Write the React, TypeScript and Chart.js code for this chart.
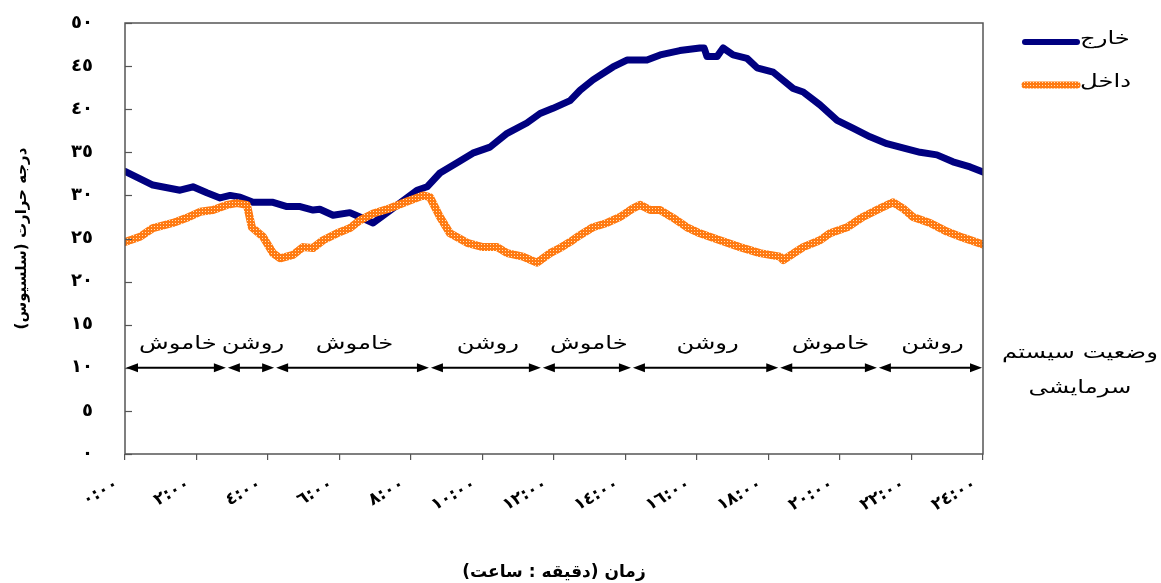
import React, { useEffect, useRef } from 'react';
import { Chart, registerables } from 'chart.js';

Chart.register(...registerables);

// ---- data (hours of day, temperature °C) ----
const outsideHours = [0, 0.78, 1.54, 1.9, 2.29, 2.66, 2.94, 3.22, 3.58, 4.14, 4.53, 4.9, 5.26, 5.45, 5.82, 6.29, 6.57, 6.94, 7.33, 7.69, 8.17, 8.45, 8.81, 9.29, 9.73, 10.21, 10.69, 11.24, 11.61, 11.97, 12.45, 12.73, 13.09, 13.65, 14.04, 14.6, 14.97, 15.52, 16.08, 16.2, 16.28, 16.56, 16.73, 17.01, 17.4, 17.68, 18.13, 18.69, 18.97, 19.44, 19.92, 20.36, 20.84, 21.31, 21.76, 22.24, 22.71, 23.16, 23.64, 24];
const outsideTemps = [32.8, 31.2, 30.6, 31.0, 30.3, 29.7, 30.0, 29.8, 29.2, 29.2, 28.7, 28.7, 28.3, 28.4, 27.7, 28.0, 27.5, 26.8, 28.0, 29.1, 30.6, 31.0, 32.6, 33.8, 34.9, 35.6, 37.2, 38.4, 39.5, 40.1, 41.0, 42.2, 43.4, 44.9, 45.7, 45.7, 46.3, 46.8, 47.1, 47.1, 46.1, 46.1, 47.1, 46.3, 45.9, 44.8, 44.3, 42.4, 42.0, 40.5, 38.7, 37.8, 36.8, 36.0, 35.5, 35.0, 34.7, 33.9, 33.3, 32.7];

const insideHours = [0, 0.42, 0.78, 1.34, 1.73, 2.1, 2.46, 2.85, 3.13, 3.41, 3.55, 3.86, 4.14, 4.34, 4.7, 4.98, 5.26, 5.54, 5.93, 6.29, 6.57, 6.94, 7.41, 7.89, 8.34, 8.53, 8.81, 9.09, 9.57, 10.01, 10.41, 10.69, 11.13, 11.52, 11.89, 12.17, 12.45, 12.73, 13.09, 13.48, 13.85, 14.21, 14.41, 14.69, 14.97, 15.33, 15.72, 16.08, 16.64, 17.2, 17.76, 18.32, 18.41, 18.97, 19.44, 19.72, 20.2, 20.64, 21.12, 21.48, 21.76, 22.04, 22.52, 22.99, 23.44, 24];
const insideTemps = [24.6, 25.2, 26.2, 26.8, 27.4, 28.1, 28.3, 28.9, 29.1, 28.9, 26.3, 25.2, 23.3, 22.7, 23.1, 24.0, 23.9, 24.8, 25.6, 26.2, 27.1, 27.9, 28.5, 29.3, 30.0, 29.8, 27.5, 25.6, 24.5, 24.0, 24.0, 23.3, 22.9, 22.2, 23.3, 23.9, 24.6, 25.4, 26.3, 26.8, 27.5, 28.5, 28.9, 28.3, 28.3, 27.4, 26.3, 25.6, 24.8, 24.0, 23.3, 22.9, 22.5, 24.0, 24.8, 25.6, 26.3, 27.5, 28.5, 29.2, 28.5, 27.5, 26.8, 25.8, 25.1, 24.3];

const seriesNames = ['خارج', 'داخل'];

// cooling system status segments (hours) and labels
const statusBounds = [0, 2.85, 4.2, 8.53, 11.66, 14.18, 18.3, 21.06, 24];
const statusLabels = ['خاموش', 'روشن', 'خاموش', 'روشن', 'خاموش', 'روشن', 'خاموش', 'روشن'];
const statusLevel = 10;
const statusTitle = ['وضعیت سیستم', 'سرمایشی'];

const yTitle = 'درجه حرارت (سلسیوس)';
const xTitle = 'زمان (دقیقه : ساعت)';

const arabicDigits = '٠١٢٣٤٥٦٧٨٩';
const toArabic = (s: string) => s.replace(/\d/g, (d) => arabicDigits[+d]);

const NAVY = '#000080';
const ORANGE = '#FF7A12';
const AR_FONT = '"DejaVu Sans", "Noto Sans", sans-serif';
const STRETCH = 1.35;

function makePattern(): CanvasPattern | string {
  const c = document.createElement('canvas');
  c.width = 3;
  c.height = 3;
  const g = c.getContext('2d');
  if (!g) return ORANGE;
  g.fillStyle = ORANGE;
  g.fillRect(0, 0, 3, 3);
  g.fillStyle = '#FFE2BC';
  g.fillRect(1, 1, 1, 1);
  return g.createPattern(c, 'repeat') || ORANGE;
}

function stretchedText(ctx: CanvasRenderingContext2D, text: string, x: number, y: number) {
  ctx.save();
  ctx.translate(x, y);
  ctx.scale(STRETCH, 1);
  ctx.fillText(text, 0, 0);
  ctx.restore();
}

export default function App() {
  const ref = useRef<HTMLCanvasElement | null>(null);

  useEffect(() => {
    const canvas = ref.current;
    if (!canvas) return;
    const pattern = makePattern();

    const decor = {
      id: 'decor',
      afterDatasetsDraw(chart: any) {
        const { ctx, chartArea: a, scales } = chart;
        const x = scales.x;
        const y = scales.y;
        ctx.save();
        // frame
        ctx.strokeStyle = '#555';
        ctx.lineWidth = 1.5;
        ctx.strokeRect(a.left, a.top, a.right - a.left, a.bottom - a.top);
        // inward y ticks
        ctx.lineWidth = 1.2;
        for (let v = 0; v <= 50; v += 5) {
          const py = Math.round(y.getPixelForValue(v)) + 0.5;
          ctx.beginPath();
          ctx.moveTo(a.left, py);
          ctx.lineTo(a.left + 7, py);
          ctx.stroke();
        }
        // status arrows
        const py = y.getPixelForValue(statusLevel);
        ctx.strokeStyle = '#000';
        ctx.fillStyle = '#000';
        ctx.direction = 'rtl';
        ctx.font = `18px ${AR_FONT}`;
        ctx.textAlign = 'center';
        ctx.textBaseline = 'middle';
        for (let i = 0; i < statusLabels.length; i++) {
          const x1 = x.getPixelForValue(statusBounds[i]) + 1;
          const x2 = x.getPixelForValue(statusBounds[i + 1]) - 1;
          ctx.lineWidth = 2;
          ctx.beginPath();
          ctx.moveTo(x1 + 6, py);
          ctx.lineTo(x2 - 6, py);
          ctx.stroke();
          ctx.beginPath();
          ctx.moveTo(x1, py);
          ctx.lineTo(x1 + 12, py - 4.5);
          ctx.lineTo(x1 + 12, py + 4.5);
          ctx.closePath();
          ctx.fill();
          ctx.beginPath();
          ctx.moveTo(x2, py);
          ctx.lineTo(x2 - 12, py - 4.5);
          ctx.lineTo(x2 - 12, py + 4.5);
          ctx.closePath();
          ctx.fill();
          stretchedText(ctx, statusLabels[i], (x1 + x2) / 2 + 2, py - 23);
        }
        // right-side status title
        stretchedText(ctx, statusTitle[0], 1080, py - 14);
        stretchedText(ctx, statusTitle[1], 1080, py + 21);
        // legend
        const lx1 = 1025;
        const lx2 = 1077;
        ctx.lineCap = 'round';
        ctx.lineWidth = 6;
        ctx.strokeStyle = NAVY;
        ctx.beginPath();
        ctx.moveTo(lx1, 42);
        ctx.lineTo(lx2, 42);
        ctx.stroke();
        ctx.lineWidth = 7;
        ctx.strokeStyle = pattern as any;
        ctx.beginPath();
        ctx.moveTo(lx1, 85);
        ctx.lineTo(lx2, 85);
        ctx.stroke();
        ctx.fillStyle = '#000';
        ctx.textAlign = 'left';
        stretchedText(ctx, seriesNames[0], lx2 + 3, 39);
        stretchedText(ctx, seriesNames[1], lx2 + 3, 82);
        ctx.restore();
      },
    };

    const chart = new Chart(canvas, {
      type: 'line',
      data: {
        datasets: [
          {
            label: seriesNames[0],
            data: outsideHours.map((h, i) => ({ x: h, y: outsideTemps[i] })),
            borderColor: NAVY,
            borderWidth: 7,
            pointRadius: 0,
            order: 1,
          },
          {
            label: seriesNames[1],
            data: insideHours.map((h, i) => ({ x: h, y: insideTemps[i] })),
            borderColor: pattern as any,
            borderWidth: 8,
            pointRadius: 0,
            order: 0,
          },
        ],
      },
      options: {
        animation: false,
        responsive: false,
        devicePixelRatio: 1,
        layout: { padding: { left: 0, top: 23, right: 178, bottom: 0 } },
        elements: {
          line: { tension: 0, borderJoinStyle: 'round', borderCapStyle: 'round' },
        },
        plugins: {
          legend: { display: false },
          tooltip: { enabled: false },
        },
        scales: {
          x: {
            type: 'linear',
            min: 0,
            max: 24,
            border: { display: false },
            grid: {
              drawOnChartArea: false,
              drawTicks: true,
              tickLength: 6,
              color: '#555',
              lineWidth: 1.2,
            },
            ticks: {
              stepSize: 2,
              autoSkip: false,
              maxRotation: 30,
              minRotation: 30,
              padding: 14,
              labelOffset: -8,
              color: '#000',
              font: { family: AR_FONT, size: 17, weight: 'bold' },
              callback: (v: any) => toArabic(`${v}:00`),
            },
            title: {
              display: true,
              text: xTitle,
              color: '#000',
              font: { family: AR_FONT, size: 17, weight: 'bold' },
              padding: { top: -3, bottom: 0 },
            },
            afterFit: (s: any) => {
              s.height = 129;
            },
          },
          y: {
            type: 'linear',
            min: 0,
            max: 50,
            border: { display: false },
            grid: { display: false, drawTicks: false },
            ticks: {
              stepSize: 5,
              padding: 32,
              color: '#000',
              font: { family: AR_FONT, size: 18, weight: 'bold' },
              callback: (v: any) => toArabic(String(v)),
            },
            title: {
              display: true,
              text: yTitle,
              color: '#000',
              font: { family: AR_FONT, size: 15, weight: 'bold' },
              padding: { top: 13, bottom: 0 },
            },
            afterFit: (s: any) => {
              s.width = 125;
              s.paddingTop = 0;
              s.paddingBottom = 0;
            },
          },
        },
      },
      plugins: [decor],
    });
    return () => chart.destroy();
  }, []);

  return (
    <div style={{ position: 'absolute', left: 0, top: 0, width: 1161, height: 583, background: '#fff' }}>
      <canvas ref={ref} width={1161} height={583} dir="rtl" style={{ display: 'block' }} />
    </div>
  );
}
